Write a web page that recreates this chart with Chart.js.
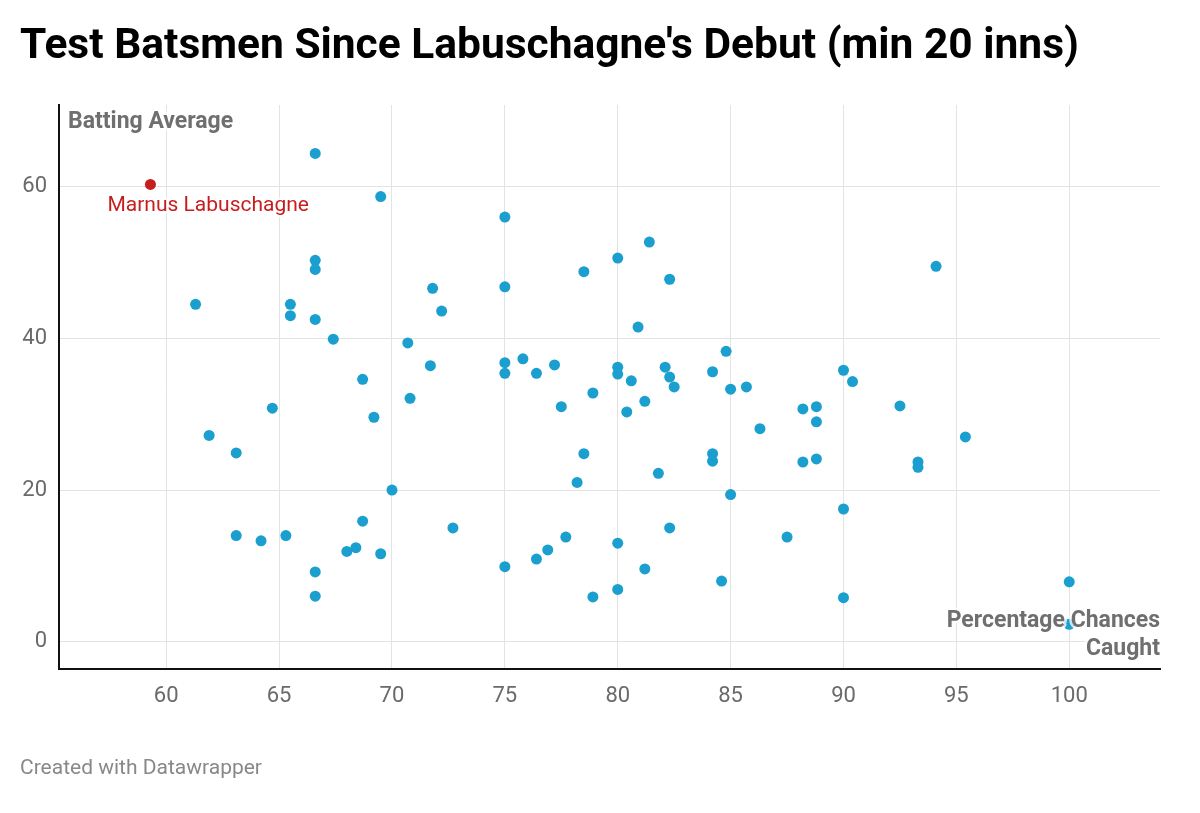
<!DOCTYPE html>
<html>
<head>
<meta charset="utf-8">
<script src="https://cdn.jsdelivr.net/npm/chart.js@4"></script>
<style>
  html, body { margin: 0; padding: 0; background: #fff; }
  #wrap { position: relative; width: 1200px; height: 813px; overflow: hidden; }
  #chart { position: absolute; left: 0; top: 0; }
  .title {
    position: absolute; left: 20px; top: 23px; margin: 0;
    font-family: Roboto, sans-serif; font-weight: 700; font-size: 42.5px; line-height: 1;
    color: #000; white-space: nowrap;
  }
  .footer {
    position: absolute; left: 20px; top: 757px;
    font-family: Roboto, sans-serif; font-size: 21px; line-height: 1; color: #888;
  }
</style>
</head>
<body>
<div id="wrap">
  <canvas id="chart" width="1200" height="813"></canvas>
  <h1 class="title">Test Batsmen Since Labuschagne's Debut (min 20 inns)</h1>
  <div class="footer">Created with Datawrapper</div>
</div>
<script>
// Percentage of chances caught (x) and batting average (y)
const catchPct = [
  66.6, 69.5, 66.6, 66.6, 61.3, 65.5, 65.5, 66.6, 67.4, 68.7,
  75.0, 81.4, 80.0, 78.5, 82.3, 71.8, 75.0, 72.2, 80.9, 70.7,
  71.7, 75.0, 75.0, 75.8, 76.4, 77.2, 80.0, 80.0, 80.6, 82.1,
  82.3, 82.5, 84.2, 84.8, 85.0, 85.7, 94.1, 90.0, 90.4, 64.7,
  69.2, 61.9, 63.1, 70.0, 68.7, 63.1, 64.2, 65.3, 68.0, 68.4,
  69.5, 66.6, 66.6, 70.8, 77.5, 78.9, 80.4, 81.2, 86.3, 78.5,
  84.2, 84.2, 81.8, 78.2, 85.0, 72.7, 82.3, 77.7, 80.0, 87.5,
  76.9, 76.4, 75.0, 81.2, 84.6, 80.0, 78.9, 88.2, 88.8, 88.8,
  92.5, 95.4, 88.2, 88.8, 93.3, 93.3, 90.0, 90.0, 100.0, 100.0
];
const battingAvg = [
  64.4, 58.7, 50.3, 49.1, 44.5, 44.5, 43.0, 42.5, 39.9, 34.6,
  56.0, 52.7, 50.6, 48.8, 47.8, 46.6, 46.8, 43.6, 41.5, 39.4,
  36.4, 36.8, 35.4, 37.3, 35.4, 36.5, 36.2, 35.3, 34.4, 36.2,
  34.9, 33.6, 35.6, 38.3, 33.3, 33.6, 49.5, 35.8, 34.3, 30.8,
  29.6, 27.2, 24.9, 20.0, 15.9, 14.0, 13.3, 14.0, 11.9, 12.4,
  11.6, 9.2, 6.0, 32.1, 31.0, 32.8, 30.3, 31.7, 28.1, 24.8,
  24.8, 23.8, 22.2, 21.0, 19.4, 15.0, 15.0, 13.8, 13.0, 13.8,
  12.1, 10.9, 9.9, 9.6, 8.0, 6.9, 5.9, 30.7, 31.0, 29.0,
  31.1, 27.0, 23.7, 24.1, 23.7, 23.0, 17.5, 5.8, 7.9, 2.3
];

// Highlighted player
const highlightName = 'Marnus Labuschagne';
const highlightPct = [59.3];
const highlightAvg = [60.3];

const xTicks = [60, 65, 70, 75, 80, 85, 90, 95, 100];
const yTicks = [0, 20, 40, 60];

const blue = '#1a9fcf';
const red = '#c71e1d';
const tickFont = { family: 'Roboto', size: 22 };

// Annotations drawn on top of the plot, with a white halo like Datawrapper
const labelPlugin = {
  id: 'labels',
  afterDatasetsDraw(chart) {
    const { ctx, chartArea, scales } = chart;
    const halo = (text, x, y, color, font, align) => {
      ctx.save();
      ctx.font = font;
      ctx.textAlign = align;
      ctx.textBaseline = 'middle';
      ctx.lineJoin = 'round';
      ctx.strokeStyle = 'rgba(255,255,255,0.75)';
      ctx.lineWidth = 5;
      ctx.strokeText(text, x, y);
      ctx.fillStyle = color;
      ctx.fillText(text, x, y);
      ctx.restore();
    };
    const bold = '700 23px Roboto';
    halo('Batting Average', chartArea.left + 9, chartArea.top + 17, '#6f6f6f', bold, 'left');
    halo('Percentage Chances', chartArea.right, chartArea.bottom - 48, '#6f6f6f', bold, 'right');
    halo('Caught', chartArea.right, chartArea.bottom - 20, '#6f6f6f', bold, 'right');

    const px = scales.x.getPixelForValue(highlightPct[0]);
    const py = scales.y.getPixelForValue(highlightAvg[0]);
    halo(highlightName, px - 43, py + 21, red, '400 21px Roboto', 'left');
  }
};

const ctx = document.getElementById('chart').getContext('2d');
new Chart(ctx, {
  type: 'scatter',
  data: {
    datasets: [
      {
        label: 'Batsmen',
        data: catchPct.map((x, i) => ({ x: x, y: battingAvg[i] })),
        backgroundColor: blue,
        borderWidth: 0,
        pointRadius: 5.5,
        order: 2
      },
      {
        label: highlightName,
        data: highlightPct.map((x, i) => ({ x: x, y: highlightAvg[i] })),
        backgroundColor: red,
        borderWidth: 0,
        pointRadius: 5.5,
        order: 1
      }
    ]
  },
  options: {
    responsive: false,
    animation: false,
    layout: { padding: { top: 105, right: 40, left: 0, bottom: 0 } },
    plugins: {
      legend: { display: false },
      tooltip: { enabled: false }
    },
    scales: {
      x: {
        type: 'linear',
        min: 55.25,
        max: 104.02,
        afterBuildTicks: s => { s.ticks = xTicks.map(v => ({ value: v })); },
        afterFit: s => { s.height = 813 - 669; },
        border: { color: '#111', width: 2 },
        grid: { color: '#e3e3e3', lineWidth: 1, drawTicks: false },
        ticks: { color: '#6a6a6a', font: tickFont, padding: 14 }
      },
      y: {
        type: 'linear',
        min: -3.6,
        max: 70.78,
        afterBuildTicks: s => { s.ticks = yTicks.map(v => ({ value: v })); },
        afterFit: s => { s.width = 59; },
        border: { color: '#111', width: 2 },
        grid: { color: '#e3e3e3', lineWidth: 1, drawTicks: false },
        ticks: { color: '#6a6a6a', font: tickFont, padding: 12 }
      }
    }
  },
  plugins: [labelPlugin]
});
</script>
</body>
</html>
